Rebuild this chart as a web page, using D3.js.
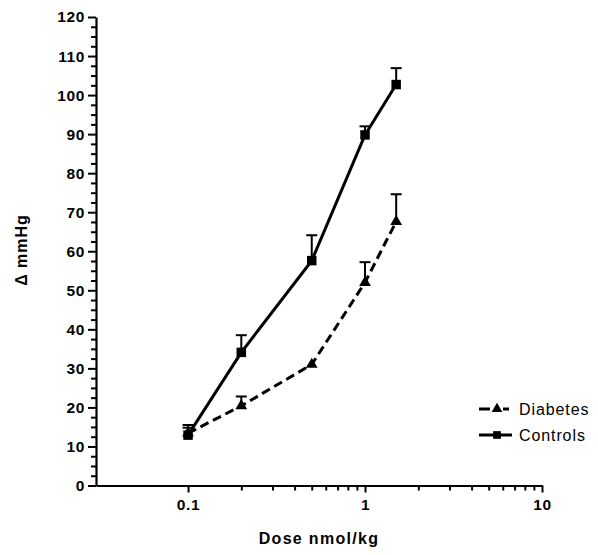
<!DOCTYPE html>
<html>
<head>
<meta charset="utf-8">
<script src="https://cdn.jsdelivr.net/npm/d3@7"></script>
<style>
body { margin: 0; background: #fff; }
svg { display: block; font-family: "Liberation Sans", Arial, Helvetica, sans-serif; }
</style>
</head>
<body>
<svg id="chart" width="598" height="555"></svg>
<script>
const doses = [0.1, 0.2, 0.5, 1, 1.5];
const controlsMean = [12.9, 34.1, 57.6, 89.8, 102.7];
const controlsUpper = [15.5, 38.5, 64.1, 92.0, 106.9];
const diabetesMean = [13.4, 20.4, 31.0, 52.0, 67.6];
const diabetesUpper = [14.8, 22.8, 31.0, 57.2, 74.6];
const seriesNames = ["Diabetes", "Controls"];
const yTicks = [0, 10, 20, 30, 40, 50, 60, 70, 80, 90, 100, 110, 120];
const xTicks = [0.1, 1, 10];
const xMinorTicks = [0.2, 0.3, 0.4, 0.5, 0.6, 0.7, 0.8, 0.9, 2, 3, 4, 5, 6, 7, 8, 9];

const svg = d3.select("#chart");
const mLeft = 96, mRight = 542, mTop = 17, mBottom = 485.5;

const x = d3.scaleLog().domain([0.0302, 10]).range([mLeft, mRight]);
const y = d3.scaleLinear().domain([0, 120]).range([mBottom, mTop]);

// Y minor ticks
const yMinor = d3.range(0, 120.01, 2.5).filter(v => v % 10 !== 0);
svg.append("g").attr("transform", `translate(${mLeft},0)`)
  .call(d3.axisLeft(y).tickValues(yMinor).tickSize(5).tickFormat(""))
  .call(g => g.select(".domain").remove())
  .call(g => g.selectAll("line").attr("stroke", "#000").attr("stroke-width", 2));

// Y axis
const yAxis = svg.append("g").attr("transform", `translate(${mLeft},0)`)
  .call(d3.axisLeft(y).tickValues(yTicks).tickSize(8).tickPadding(3).tickSizeOuter(0));
yAxis.select(".domain").attr("stroke", "#000").attr("stroke-width", 2.2);
yAxis.selectAll("line").attr("stroke", "#000").attr("stroke-width", 2);
yAxis.selectAll("text").attr("font-size", 15.5).attr("font-weight", "bold")
  .attr("font-family", "Liberation Sans, Arial, sans-serif").attr("letter-spacing", 0.6).attr("fill", "#000");

// X minor ticks
svg.append("g").attr("transform", `translate(0,${mBottom})`)
  .call(d3.axisBottom(x).tickValues(xMinorTicks).tickSize(5).tickFormat(""))
  .call(g => g.select(".domain").remove())
  .call(g => g.selectAll("line").attr("stroke", "#000").attr("stroke-width", 2));

// X axis
const xAxis = svg.append("g").attr("transform", `translate(0,${mBottom})`)
  .call(d3.axisBottom(x).tickValues(xTicks).tickSize(7).tickPadding(6).tickSizeOuter(0)
    .tickFormat(d => String(d)));
xAxis.select(".domain").attr("stroke", "#000").attr("stroke-width", 2.2);
xAxis.selectAll("line").attr("stroke", "#000").attr("stroke-width", 2);
xAxis.selectAll("text").attr("font-size", 15.5).attr("font-weight", "bold")
  .attr("font-family", "Liberation Sans, Arial, sans-serif").attr("letter-spacing", 0.6).attr("fill", "#000");

// Axis titles
svg.append("text").attr("x", (mLeft + mRight) / 2).attr("y", 544)
  .attr("text-anchor", "middle").attr("font-size", 16).attr("font-weight", "bold")
  .attr("letter-spacing", 1.3).text("Dose nmol/kg");
svg.append("text").attr("transform", `translate(27,250) rotate(-90)`)
  .attr("text-anchor", "middle").attr("font-size", 16).attr("font-weight", "bold")
  .attr("letter-spacing", 1).text("Δ mmHg");

const series = [
  { name: seriesNames[0], mean: diabetesMean, upper: diabetesUpper, dash: "9,5", marker: "triangle" },
  { name: seriesNames[1], mean: controlsMean, upper: controlsUpper, dash: null, marker: "square" }
];

const line = d3.line().x(d => x(d[0])).y(d => y(d[1]));

series.forEach(s => {
  const pts = doses.map((d, i) => [d, s.mean[i], s.upper[i]]);
  const eb = svg.append("g");
  pts.forEach(p => {
    if (p[2] - p[1] > 0.3) {
      eb.append("line").attr("x1", x(p[0])).attr("x2", x(p[0])).attr("y1", y(p[1])).attr("y2", y(p[2]))
        .attr("stroke", "#000").attr("stroke-width", 2);
      eb.append("line").attr("x1", x(p[0]) - 5.5).attr("x2", x(p[0]) + 5.5).attr("y1", y(p[2])).attr("y2", y(p[2]))
        .attr("stroke", "#000").attr("stroke-width", 2);
    }
  });
  svg.append("path").datum(pts).attr("d", line).attr("fill", "none").attr("stroke", "#000")
    .attr("stroke-width", 3).attr("stroke-dasharray", s.dash);
  const sym = s.marker === "square" ? d3.symbolSquare : d3.symbolTriangle;
  const size = s.marker === "square" ? 90 : 60;
  svg.append("g").selectAll("path").data(pts).join("path")
    .attr("transform", p => `translate(${x(p[0])},${y(p[1])})`)
    .attr("d", d3.symbol().type(sym).size(size)).attr("fill", "#000");
});

// Legend
const legend = svg.append("g");
[[409, series[0]], [435, series[1]]].forEach(([ly, s]) => {
  legend.append("line").attr("x1", 479).attr("x2", 512).attr("y1", ly).attr("y2", ly)
    .attr("stroke", "#000").attr("stroke-width", 3).attr("stroke-dasharray", s.dash ? "11,13,6,4,2" : null);
  legend.append("path").attr("transform", `translate(497,${ly})`)
    .attr("d", d3.symbol().type(s.marker === "square" ? d3.symbolSquare : d3.symbolTriangle).size(s.marker === "square" ? 60 : 50))
    .attr("fill", "#000");
  legend.append("text").attr("x", 519).attr("y", ly + 5.5).attr("font-size", 16)
    .attr("letter-spacing", 0.9).attr("fill", "#000").text(s.name);
});
</script>
</body>
</html>
